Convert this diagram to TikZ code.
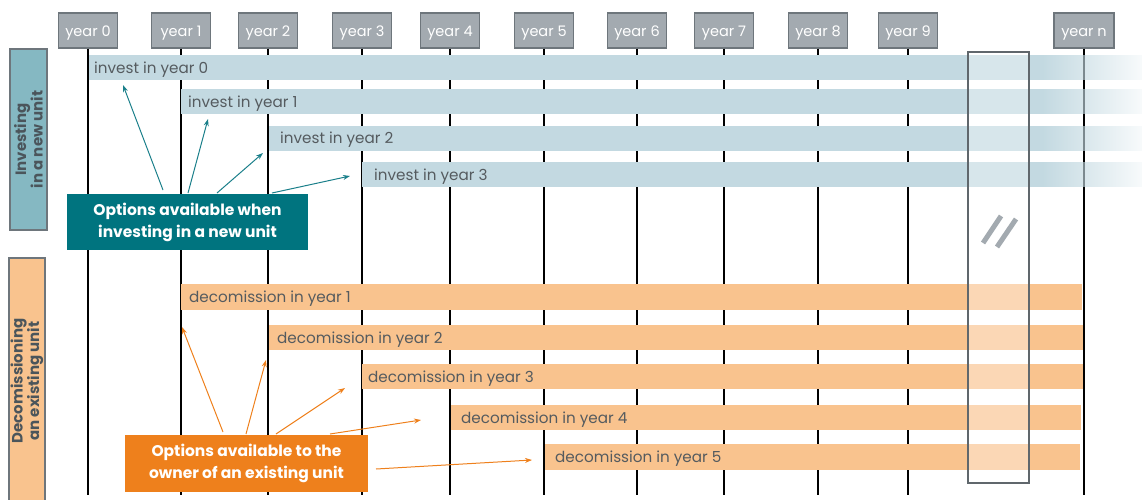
\documentclass[tikz,border=0pt]{standalone}
\usepackage{fontspec}
\setmainfont{Poppins}
\usetikzlibrary{fadings,arrows.meta}

\definecolor{yeargray}{HTML}{A3AAB0}
\definecolor{yearedge}{HTML}{6E767C}
\definecolor{barblue}{HTML}{C3D9E1}
\definecolor{barorange}{HTML}{F9C38E}
\definecolor{invlabel}{HTML}{85B8C2}
\definecolor{tealbox}{HTML}{00747F}
\definecolor{tealarrow}{HTML}{1A7F8A}
\definecolor{orangebox}{HTML}{EE801C}
\definecolor{labeltext}{HTML}{4B555B}
\definecolor{bartext}{HTML}{555B5F}
\definecolor{gapedge}{HTML}{60676C}

\tikzfading[name=barfade, left color=transparent!0, right color=transparent!88]

\tikzset{
  yearbox/.style={draw=yearedge, line width=1.2pt, fill=yeargray, text=white,
    minimum width=59pt, minimum height=35pt, inner sep=0pt,
    text height=12pt, text depth=1pt, font=\fontsize{14.5}{16}\selectfont},
  yearline/.style={line width=2.3pt, black},
  bartxt/.style={anchor=base west, inner sep=0pt, text=bartext, font=\fontsize{15.2}{17}\selectfont},
  sidelabel/.style={draw=yearedge, line width=1.2pt, inner sep=0pt},
  sidetxt/.style={rotate=90, align=center, text=labeltext,
    font=\fontsize{15}{16.5}\selectfont\bfseries},
  callout/.style={inner sep=0pt, text=white, align=center,
    font=\fontsize{15.5}{22}\selectfont\bfseries},
  tealarr/.style={tealarrow, line width=1pt, -{Stealth[length=7pt,width=5pt]}},
  orangearr/.style={orangebox, line width=1pt, -{Stealth[length=7pt,width=5pt]}},
}

\begin{document}
\begin{tikzpicture}[x=1pt, y=-1pt]
\useasboundingbox (0,0) rectangle (1142,499);
\clip (0,0) rectangle (1142,499);

% time axis: year headers and their vertical lines
\foreach \i/\x in {0/88,1/181,2/268,3/362,4/450,5/544,6/637,7/724,8/818,9/908}{
  \node[yearbox] (y\i) at (\x,30.5) {year \i};
  \coordinate (b\i) at (\x,495);
  \draw[yearline] (y\i.south) -- (b\i);
}
\node[yearbox, minimum width=60pt] (yn) at (1084,30.5) {year n};
\coordinate (bn) at (1084,495);
\draw[yearline] (yn.south) -- (bn);

% investment options (open-ended, fading to the right)
\foreach \k/\xs/\ym in {0/89/67.5,1/181/101.5,2/269/138,3/362/174.5}{
  \fill[barblue] (\xs,\ym-12.5) rectangle (1043,\ym+12.5);
  \fill[barblue, path fading=barfade] (1042.5,\ym-12.5) rectangle (1142,\ym+12.5);
}
\node[bartxt] (inv0) at (94,73) {invest in year 0};
\node[bartxt] (inv1) at (188,107) {invest in year 1};
\node[bartxt] (inv2) at (280,143.5) {invest in year 2};
\node[bartxt] (inv3) at (374,180) {invest in year 3};

% decommissioning options (end at year n)
\fill[barorange] (181,284) rectangle (1082,310);
\fill[barorange] (269,325) rectangle (1083,350);
\fill[barorange] (362,364) rectangle (1083,389);
\fill[barorange] (451,405) rectangle (1081,430);
\fill[barorange] (545,444) rectangle (1080,470);
\node[bartxt] (dec1) at (189,302.5) {decomission in year 1};
\node[bartxt] (dec2) at (277,343) {decomission in year 2};
\node[bartxt] (dec3) at (368,382) {decomission in year 3};
\node[bartxt] (dec4) at (461,423) {decomission in year 4};
\node[bartxt] (dec5) at (555,462.5) {decomission in year 5};

% break in the time axis
\draw[gapedge, line width=1.3pt, fill=white, fill opacity=0.35] (968,52) rectangle (1029,483);
\draw[yeargray, line width=5pt] (983,243) -- (1001,216);
\draw[yeargray, line width=5pt] (997,247) -- (1016,219);

% side labels
\node[sidelabel, fill=invlabel, minimum width=37pt, minimum height=181pt] (invlab) at (28.5,139.5) {};
\node[sidetxt] (invtxt) at (invlab.center) {Investing\\in a new unit};
\node[sidelabel, fill=barorange, minimum width=36pt, minimum height=250pt] (declab) at (27,383) {};
\node[sidetxt] (dectxt) at (27,381) {Decomissioning\\an existing unit};

% callout: new unit
\node[callout, fill=tealbox, minimum width=241pt, minimum height=56pt] (newopt) at (187.5,222)
  {Options available when\\investing in a new unit};
\coordinate (ns1) at (163,190); \coordinate (nt1) at (123,85);
\coordinate (ns2) at (188,193); \coordinate (nt2) at (208,119);
\coordinate (ns3) at (217,193); \coordinate (nt3) at (263,153);
\coordinate (ns4) at (272,193); \coordinate (nt4) at (350,176);
\foreach \k in {1,...,4}{ \draw[tealarr] (ns\k) -- (nt\k); }

% callout: existing unit
\node[callout, fill=orangebox, minimum width=243pt, minimum height=57pt] (oldopt) at (246.5,463.5)
  {Options available to the\\owner of an existing unit};
\coordinate (os1) at (223,432); \coordinate (ot1) at (182,327);
\coordinate (os2) at (246,434); \coordinate (ot2) at (266,360);
\coordinate (os3) at (276,434); \coordinate (ot3) at (345,388);
\coordinate (os4) at (330,434); \coordinate (ot4) at (421,420);
\coordinate (os5) at (376,469); \coordinate (ot5) at (532,460);
\foreach \k in {1,...,5}{ \draw[orangearr] (os\k) -- (ot\k); }
\end{tikzpicture}
\end{document}
